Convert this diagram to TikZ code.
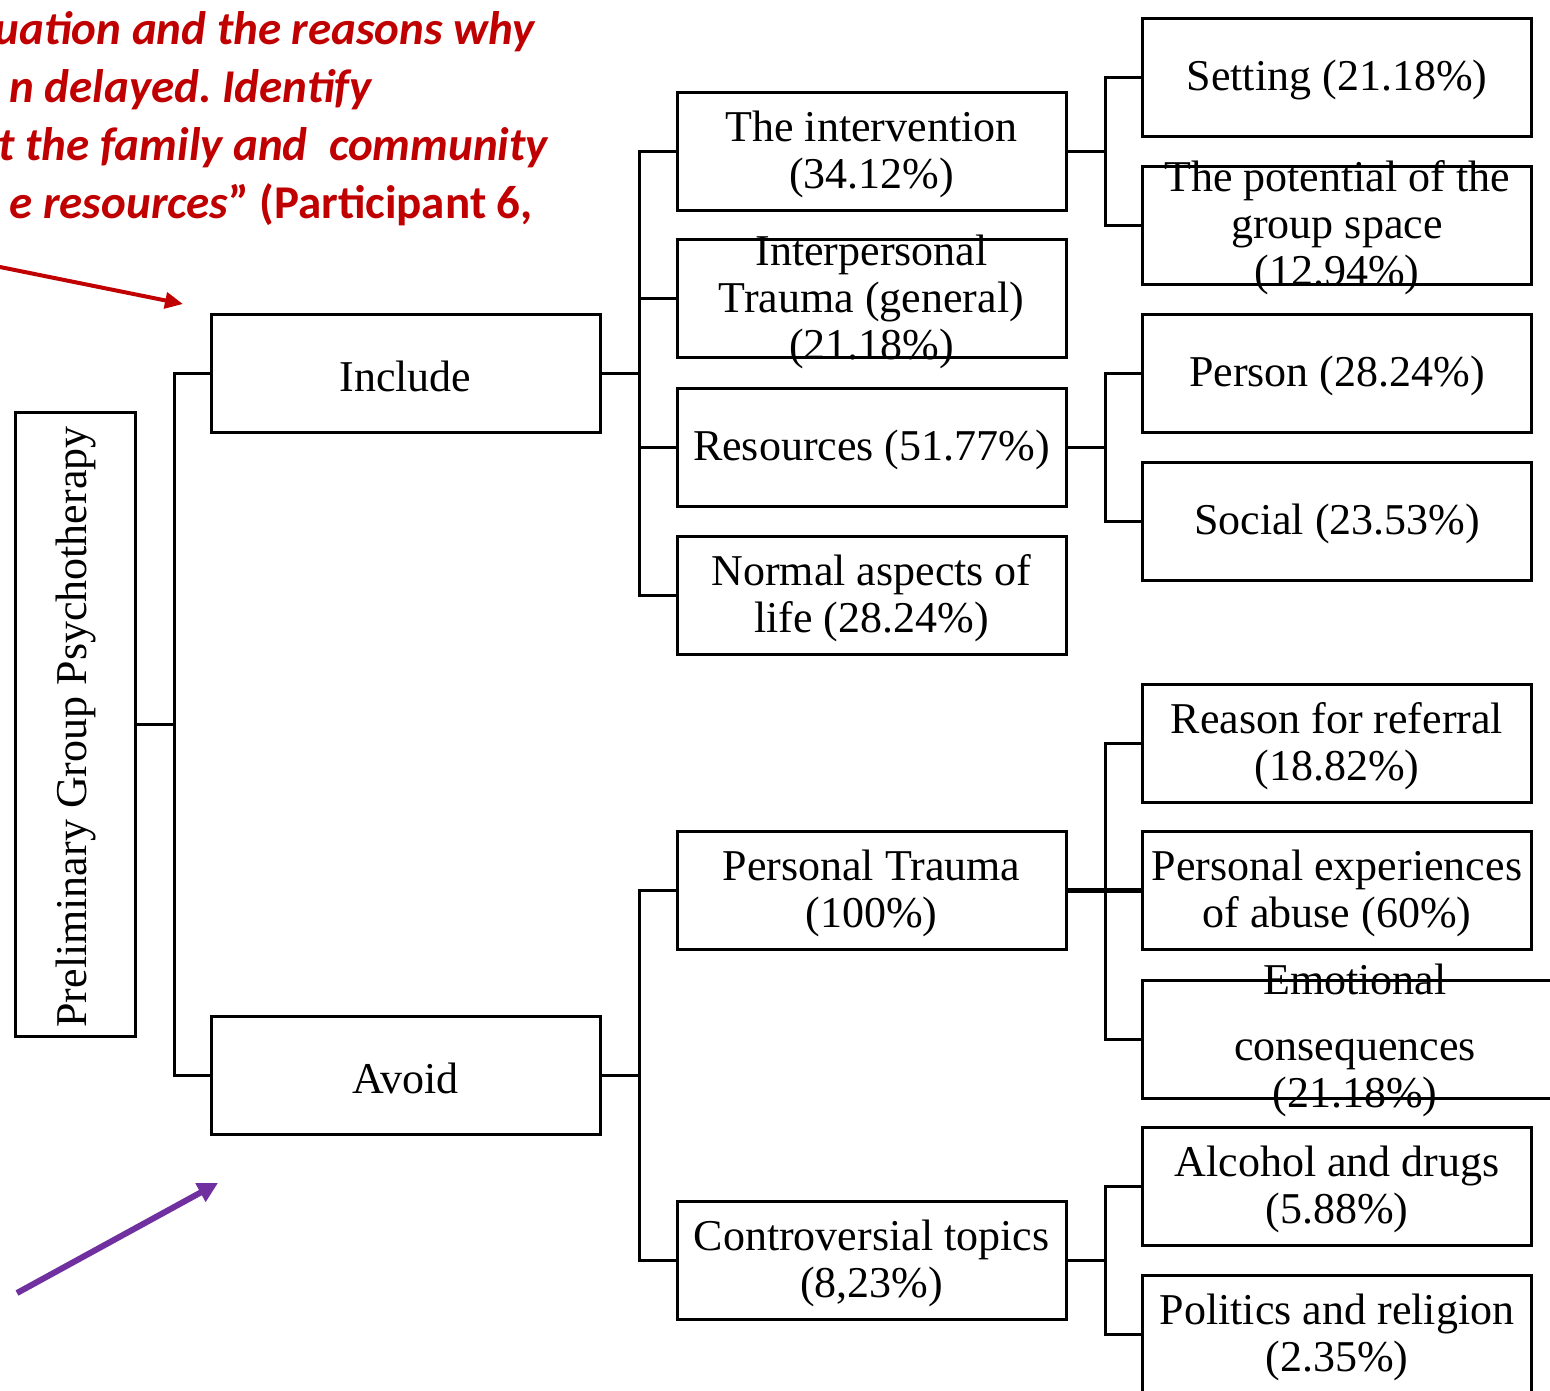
\documentclass[tikz,border=0pt]{standalone}
\usepackage{fontspec}
\setmainfont{Liberation Serif}
\newfontfamily\calib{Carlito}
\usetikzlibrary{arrows.meta}
\definecolor{quotered}{HTML}{C00000}
\definecolor{arrowpurple}{HTML}{7030A0}
\frenchspacing
\begin{document}
\begin{tikzpicture}[x=1pt,y=-1pt,
  box/.style={draw=black,line width=3pt,minimum width=389pt,minimum height=118pt,inner sep=0pt},
  txt/.style={inner sep=0pt,align=center,yshift=-3pt,font=\fontsize{44}{47}\selectfont},
  conn/.style={line width=3pt,draw=black},
  quote/.style={inner sep=0pt,anchor=base east,text=quotered,font=\calib\bfseries\itshape\fontsize{47}{56}\selectfont}]
\useasboundingbox (0,0) rectangle (1550,1390);
\clip (0,0) rectangle (1550,1390);
\fill[white] (0,0) rectangle (1550,1390);

% quote text
\node[quote] (q1) at (535,44) {uation and the reasons why};
\node[quote] (q2) at (372,102) {n delayed. Identify};
\node[quote] (q3) at (548,160) {t the family and~ community};
\node[quote] (q4) at (533,218) {e resources{\upshape ” (Participant 6,}};

% boxes
\node[box,minimum width=120pt,minimum height=624pt] (prelim) at (75,724) {};
\node[box] (include) at (405.5,373) {};
\node[box] (avoid) at (405.5,1075) {};
\node[box] (interv) at (871.5,151) {};
\node[box] (interp) at (871.5,298.5) {};
\node[box] (resour) at (871.5,447) {};
\node[box] (normal) at (871.5,595) {};
\node[box] (ptrauma) at (871.5,890) {};
\node[box] (controv) at (871.5,1260) {};
\node[box] (setting) at (1337,77) {};
\node[box] (potent) at (1337,225) {};
\node[box] (person) at (1337,373) {};
\node[box] (social) at (1337,521) {};
\node[box] (reason) at (1337,743) {};
\node[box] (pexp) at (1337,890) {};
\node[box,minimum width=430pt] (emot) at (1357,1039) {};
\node[box] (alcohol) at (1337,1186.5) {};
\node[box] (politics) at (1337,1334) {};

% texts
\node[txt,rotate=90,yshift=3pt] (t-prelim) at (79,724) {Preliminary Group Psychotherapy};
\node[txt] (t-include) at (405.5,373) {Include};
\node[txt] (t-avoid) at (405.5,1075) {Avoid};
\node[txt] (t-interv) at (871.5,151) {The intervention\\(34.12\%)};
\node[txt] (t-interp) at (871.5,298.5) {Interpersonal\\Trauma (general)\\(21.18\%)};
\node[txt] (t-resour) at (871.5,447) {Resources (51.77\%)};
\node[txt] (t-normal) at (871.5,595) {Normal aspects of\\life (28.24\%)};
\node[txt] (t-ptrauma) at (871.5,890) {Personal Trauma\\(100\%)};
\node[txt] (t-controv) at (871.5,1260) {Controversial topics\\(8,23\%)};
\node[txt] (t-setting) at (1337,77) {Setting (21.18\%)};
\node[txt] (t-potent) at (1337,225) {The potential of the\\group space\\(12.94\%)};
\node[txt] (t-person) at (1337,373) {Person (28.24\%)};
\node[txt] (t-social) at (1337,521) {Social (23.53\%)};
\node[txt] (t-reason) at (1337,743) {Reason for referral\\(18.82\%)};
\node[txt] (t-pexp) at (1337,890) {Personal experiences\\of abuse (60\%)};
\node[txt] (t-emot) at (1355,1037) {Emotional\\[19pt]consequences\\(21.18\%)};
\node[txt] (t-alcohol) at (1337,1186.5) {Alcohol and drugs\\(5.88\%)};
\node[txt] (t-politics) at (1337,1334) {Politics and religion\\(2.35\%)};

% connectors
\draw[conn] (prelim.east) -- ++(38,0) |- (include.west);
\draw[conn] (prelim.east) -- ++(38,0) |- (avoid.west);
\foreach \c in {interv,interp,resour,normal}
  \draw[conn] (include.east) -- ++(38,0) |- (\c.west);
\foreach \c in {ptrauma,controv}
  \draw[conn] (avoid.east) -- ++(38,0) |- (\c.west);
\foreach \c in {setting,potent}
  \draw[conn] (interv.east) -- ++(38,0) |- (\c.west);
\foreach \c in {person,social}
  \draw[conn] (resour.east) -- ++(38,0) |- (\c.west);
\foreach \c in {reason,pexp,emot}
  \draw[conn] (ptrauma.east) -- ++(38,0) |- (\c.west);
\draw[conn,line width=5pt] (ptrauma.east) -- (pexp.west);
\foreach \c in {alcohol,politics}
  \draw[conn] (controv.east) -- ++(38,0) |- (\c.west);

% highlight arrows
\coordinate (redstart) at (-5,266);
\coordinate (redend) at (183,304);
\draw[quotered,line width=4pt,-{Triangle[length=18pt,width=16pt]}] (redstart) -- (redend);
\coordinate (purstart) at (17,1293);
\coordinate (purend) at (218,1183);
\draw[arrowpurple,line width=6pt,-{Triangle[length=20pt,width=20pt]}] (purstart) -- (purend);
\end{tikzpicture}
\end{document}
